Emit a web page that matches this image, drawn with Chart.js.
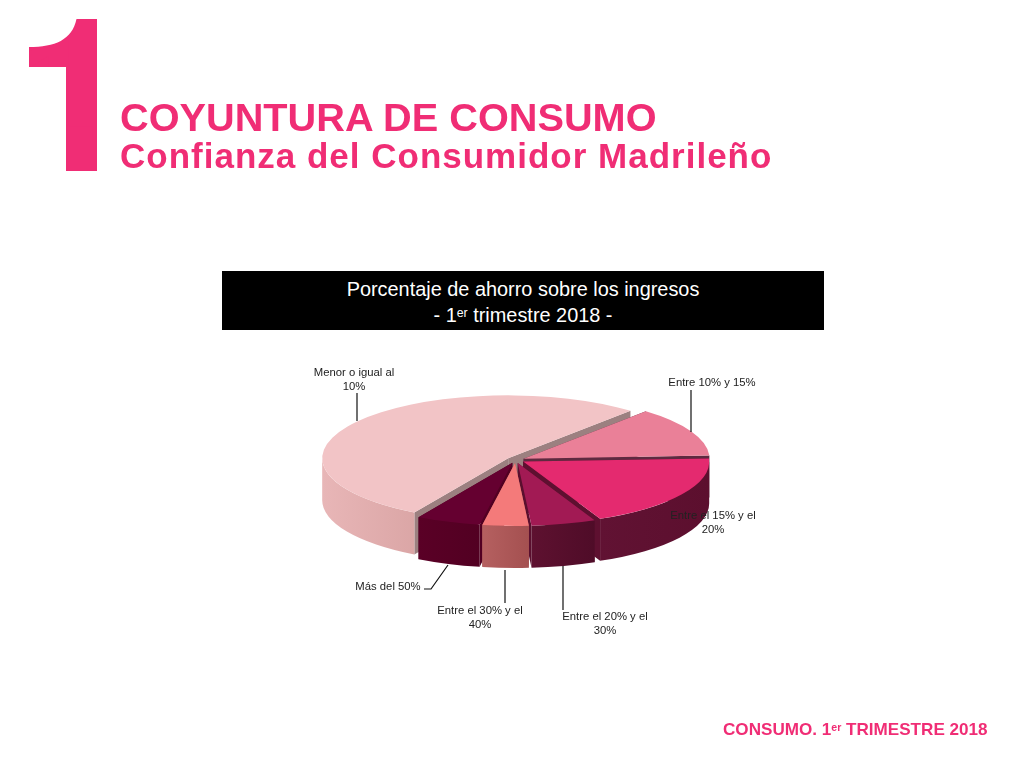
<!DOCTYPE html>
<html lang="es"><head><meta charset="utf-8">
<script src="https://cdn.jsdelivr.net/npm/chart.js@4"></script>
<style>
html,body{margin:0;padding:0;background:#fff;width:1024px;height:768px;overflow:hidden;font-family:"Liberation Sans",Arial,sans-serif}
#c{position:absolute;left:0;top:0}
.t{position:absolute;white-space:nowrap;color:#f02d75;font-weight:bold;line-height:1}
#one{position:absolute;left:0;top:0;width:110px;height:180px;background:#f02d75;color:#f02d75;font-weight:bold;font-size:150px;line-height:180px;text-align:center;
clip-path:path("M76.5,19 L97,19 L97,171 L66,171 L66,67 L29,67 L29,47 C 55,47 72,40 76.5,19 Z")}
#box{position:absolute;left:222px;top:271px;width:602px;height:59px;background:#000;color:#fff;text-align:center;font-size:19.9px;line-height:26px;padding-top:5px;box-sizing:border-box}
sup{font-size:.62em;line-height:0;vertical-align:baseline;position:relative;top:-.42em}
</style></head><body>
<canvas id="c" width="1024" height="768"></canvas>
<div id="one">1</div>
<div class="t" style="left:120px;top:98px;font-size:39.7px">COYUNTURA DE CONSUMO</div>
<div class="t" style="left:120px;top:138px;font-size:35px;letter-spacing:1px">Confianza del Consumidor Madrileño</div>
<div id="box">Porcentaje de ahorro sobre los ingresos<br>- 1<sup>er</sup> trimestre 2018 -</div>
<div class="t" style="left:723px;top:721px;font-size:17.1px">CONSUMO. 1<sup>er</sup> TRIMESTRE 2018</div>
<script>
const categories = ["Menor o igual al 10%","Entre 10% y 15%","Entre el 15% y el 20%","Entre el 20% y el 30%","Entre el 30% y el 40%","Más del 50%"];
const values = [53.0,12.8,19.0,5.6,4.0,5.6];
const topColors = ["#f2c4c6","#ea8098","#e42a6f","#a21a54","#f47a7a","#650030"];
const wallLeft = ["#e8b6b7","#c9657c","#611233","#5e1130","#b56060","#5a0026"];
const wallRight = ["#dba6a6","#b5566c","#5c0f2e","#4f0c28","#a45050","#520022"];
const cutColors = ["#9c8080","#5e2a40","#5e1030","#5a0f2e","#a85555","#520022"];
const explode = [9,9,9,9,9,9];
const labelLines = [["Menor o igual al","10%"],["Entre 10% y 15%"],["Entre el 15% y el","20%"],["Entre el 20% y el","30%"],["Entre el 30% y el","40%"],["Más del 50%"]];
const labelAnchors = [[354,373],[712,383],[713,516],[605,617],[480,611],[388,587]];
const leaders = [[[357,393],[357,421]],[[691,390],[691,432]],[],[[563,566],[563,610]],[[505,570],[505,603]],[[448,565],[431,589],[424,589]]];
const SQUISH = 0.338, DEPTH = 42;
const TAU = Math.PI*2;

const pie3d = {
  id:'pie3d',
  beforeDatasetsDraw(chart){
    const ctx = chart.ctx, arcs = chart.getDatasetMeta(0).data;
    const order = arcs.map((a,i)=>i).sort((p,q)=>{
      const m=a=>Math.sin((a.startAngle+a.endAngle)/2);
      return m(arcs[p])-m(arcs[q]);
    });
    order.forEach(i=>{
      const a=arcs[i], off=explode[i], R=a.outerRadius, mid=(a.startAngle+a.endAngle)/2;
      const dx=Math.cos(mid)*off, dy=Math.sin(mid)*off;
      const cx=a.x+dx, cy=a.y+dy*SQUISH;
      const P=t=>[cx+R*Math.cos(t),cy+R*Math.sin(t)*SQUISH];
      // cut faces
      [a.startAngle,a.endAngle].forEach(t=>{
        const p=P(t);
        ctx.beginPath();ctx.moveTo(cx,cy);ctx.lineTo(p[0],p[1]);ctx.lineTo(p[0],p[1]+DEPTH);ctx.lineTo(cx,cy+DEPTH);ctx.closePath();
        ctx.fillStyle=cutColors[i];ctx.fill();
      });
      // outer wall: visible part is where sin(angle) > 0
      for(let k=-1;k<=2;k++){
        const lo=Math.max(a.startAngle,k*TAU), hi=Math.min(a.endAngle,k*TAU+Math.PI);
        if(hi<=lo) continue;
        const pl=P(hi), pr=P(lo);
        const g=ctx.createLinearGradient(pl[0],0,pr[0],0);
        g.addColorStop(0,wallLeft[i]);g.addColorStop(1,wallRight[i]);
        ctx.beginPath();
        ctx.ellipse(cx,cy,R,R*SQUISH,0,lo,hi,false);
        ctx.ellipse(cx,cy+DEPTH,R,R*SQUISH,0,hi,lo,true);
        ctx.closePath();ctx.fillStyle=g;ctx.fill();
      }
      // top face, drawn by the library's arc element
      ctx.save();
      ctx.translate(a.x,a.y);ctx.scale(1,SQUISH);ctx.translate(-a.x+dx,-a.y+dy);
      a.draw(ctx);
      ctx.restore();
    });
    // leaders and labels
    ctx.strokeStyle='#111';ctx.lineWidth=1.2;
    leaders.forEach(l=>{ if(!l.length) return; ctx.beginPath();l.forEach((p,j)=>j?ctx.lineTo(p[0],p[1]):ctx.moveTo(p[0],p[1]));ctx.stroke();});
    ctx.fillStyle='#222';ctx.font='11.3px "Liberation Sans", Arial, sans-serif';ctx.textAlign='center';ctx.textBaseline='middle';
    labelLines.forEach((ls,i)=>ls.forEach((s,j)=>ctx.fillText(s,labelAnchors[i][0],labelAnchors[i][1]+j*13.5)));
    return false;
  }
};
new Chart(document.getElementById('c'),{
  type:'pie',
  data:{labels:categories,datasets:[{data:values,backgroundColor:topColors,borderWidth:0}]},
  options:{responsive:false,animation:false,rotation:210.3,radius:186,
    layout:{padding:{left:7,top:152,right:0,bottom:0}},
    plugins:{legend:{display:false},tooltip:{enabled:false},title:{display:false}},events:[]},
  plugins:[pie3d]
});
</script>
</body></html>
